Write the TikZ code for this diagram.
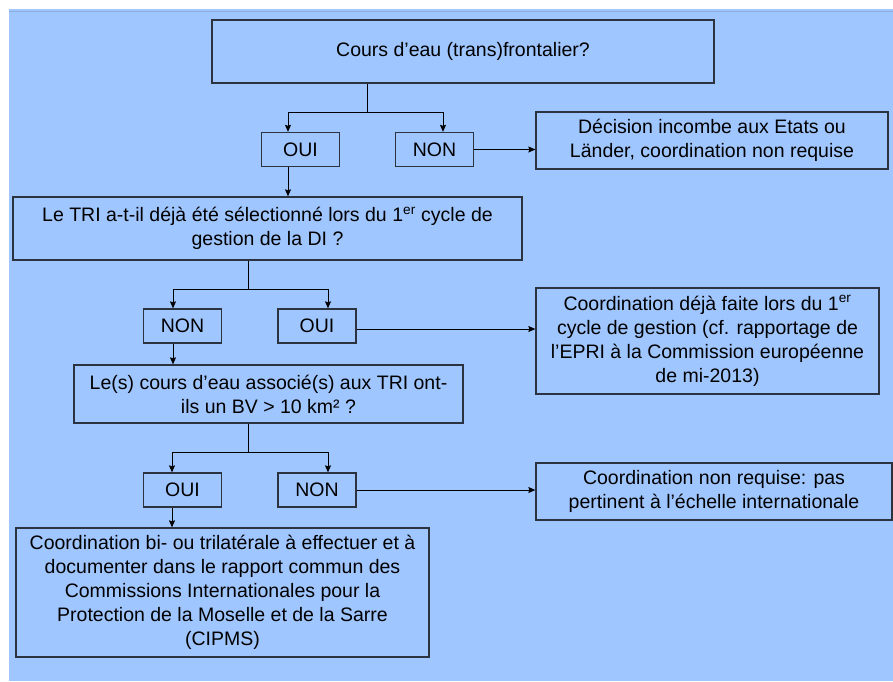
\documentclass[tikz,border=0pt]{standalone}
\usepackage{fontspec}
\setmainfont{Liberation Sans}
\usetikzlibrary{arrows.meta}
\definecolor{fondbleu}{HTML}{A0C6FF}
\definecolor{bordbleu}{HTML}{8AAEE0}
\definecolor{cadre}{HTML}{2B3340}
\tikzset{
  boite/.style = {draw=cadre, line width=1.3pt, align=center, inner sep=2pt,
    text centered, font=\fontsize{19.5}{24}\selectfont},
  rep/.style = {boite, minimum width=78pt, minimum height=34pt},
  fleche/.style = {-{Stealth[length=7pt,width=6pt,inset=1pt]}, line width=1pt, black},
  trait/.style = {line width=1pt, black},
}

\begin{document}
\begin{tikzpicture}[x=1pt,y=-1pt]
  \useasboundingbox (0,0) rectangle (893,681);
  \fill[white] (0,0) rectangle (893,681);
  \fill[fondbleu] (9,9) rectangle (893,681);
  \draw[bordbleu, line width=1.2pt] (9,11.5) -- (893,11.5);

  % questions
  \node [boite, minimum width=502pt, minimum height=63pt] (cours) at (463,51.5)
      {Cours d’eau (trans)frontalier?};
  \node [boite, minimum width=509pt, minimum height=63pt] (tri) at (267.5,228.5)
      {Le TRI a-t-il déjà été sélectionné lors du 1\textsuperscript{er} cycle de\\
       gestion de la DI ?};
  \node [boite, minimum width=389pt, minimum height=58pt] (bv) at (268.5,394)
      {Le(s) cours d’eau associé(s) aux TRI ont-\\ils un BV > 10 km² ?};

  % reponses
  \node [rep] (oui1) at (300.5,149.5) {OUI};
  \node [rep] (non1) at (434.5,149.5) {NON};
  \node [rep] (non2) at (182.5,326) {NON};
  \node [rep] (oui2) at (317,326) {OUI};
  \node [rep] (oui3) at (182.5,490) {OUI};
  \node [rep] (non3) at (317,490) {NON};

  % conclusions
  \node [boite, minimum width=352pt, minimum height=57pt] (etats) at (712,140.5)
      {Décision incombe aux Etats ou\\Länder, coordination non requise};
  \node [boite, minimum width=343pt, minimum height=106pt] (epri) at (707.5,341)
      {Coordination déjà faite lors du 1\textsuperscript{er}\\
       cycle de gestion (cf. rapportage de\\
       l’EPRI à la Commission européenne\\de mi-2013)};
  \node [boite, minimum width=356pt, minimum height=57pt] (pas) at (714,491.5)
      {Coordination non requise: pas\\pertinent à l’échelle internationale};
  \node [boite, minimum width=413pt, minimum height=129pt] (cipms) at (222.5,592.5)
      {Coordination bi- ou trilatérale à effectuer et à\\
       documenter dans le rapport commun des\\
       Commissions Internationales pour la\\
       Protection de la Moselle et de la Sarre\\(CIPMS)};

  % points de branchement
  \coordinate (j1) at (367,112);
  \coordinate (g1) at (288,112);
  \coordinate (d1) at (443,112);
  \coordinate (j2) at (248,289);
  \coordinate (g2) at (173,289);
  \coordinate (d2) at (328,289);
  \coordinate (j3) at (248,452);
  \coordinate (g3) at (172,452);
  \coordinate (d3) at (328,452);

  \draw [trait] (cours.south -| j1) -- (j1);
  \draw [fleche] (j1) -- (g1) -- (g1 |- oui1.north);
  \draw [fleche] (j1) -- (d1) -- (d1 |- non1.north);
  \draw [fleche] (non1.east) -- (non1.east -| etats.west);
  \draw [fleche] (oui1.south -| g1) -- (tri.north -| g1);

  \draw [trait] (tri.south -| j2) -- (j2);
  \draw [fleche] (j2) -- (g2) -- (g2 |- non2.north);
  \draw [fleche] (j2) -- (d2) -- (d2 |- oui2.north);
  \draw [fleche] ([yshift=-3pt]oui2.east) -- ([yshift=-3pt]oui2.east -| epri.west);
  \draw [fleche] (non2.south -| g2) -- (bv.north -| g2);

  \draw [trait] (bv.south -| j3) -- (j3);
  \draw [fleche] (j3) -- (g3) -- (g3 |- oui3.north);
  \draw [fleche] (j3) -- (d3) -- (d3 |- non3.north);
  \draw [fleche] (non3.east) -- (non3.east -| pas.west);
  \draw [fleche] (oui3.south -| g3) -- (cipms.north -| g3);
\end{tikzpicture}
\end{document}
